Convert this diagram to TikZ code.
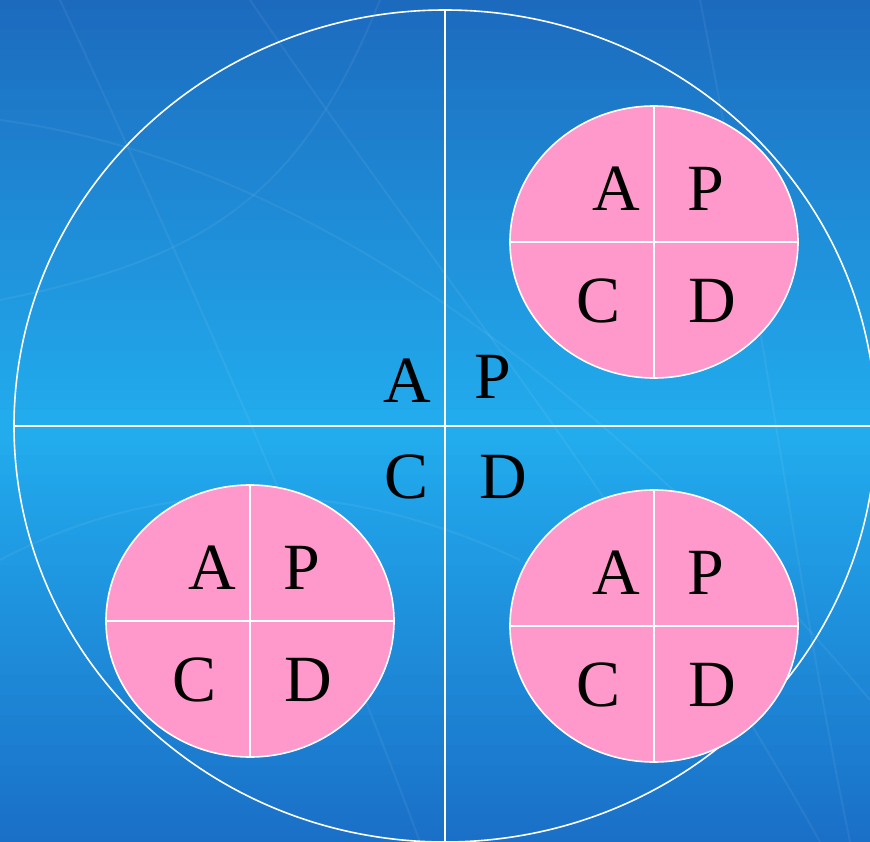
\documentclass[tikz,border=0pt]{standalone}
\usepackage{fontspec}
\setmainfont{Liberation Serif}
\usetikzlibrary{shapes.geometric, positioning}

\definecolor{skytop}{RGB}{28,106,190}
\definecolor{skymid}{RGB}{34,172,238}
\definecolor{skybot}{RGB}{26,110,198}
\definecolor{discpink}{RGB}{255,153,204}

\begin{document}
\begin{tikzpicture}[
    x=1pt, y=-1pt,
    letter/.style={inner sep=0pt, text=black, font=\fontsize{66}{66}\selectfont},
    divider/.style={draw=white, line width=1.6pt},
    ring/.style={draw=white, line width=1.6pt, ellipse, inner sep=0pt, minimum width=862pt, minimum height=832pt},
    disc/.style={draw=white, line width=1.6pt, fill=discpink, ellipse, inner sep=0pt, minimum width=288pt, minimum height=272pt},
    streak/.style={draw=white, opacity=0.06, line width=2pt}
]

% -------------------------
% Quadrant Disc Definition
% -------------------------
\tikzset{
    apcd/.pic={
        \node[disc] (-disc) at (0, 0) {};
        \draw[divider] (-disc.west) -- (-disc.east); % Horizontal
        \draw[divider] (-disc.north) -- (-disc.south); % Vertical
        \node[letter] (-A) at (-38, -53) {A};
        \node[letter] (-P) at (52, -53) {P};
        \node[letter] (-C) at (-55, 59) {C};
        \node[letter] (-D) at (58, 59) {D};
    }
}

% -------------------------
% Background
% -------------------------
\useasboundingbox (0, 0) rectangle (870, 842);
\clip (0, 0) rectangle (870, 842);
\foreach \i in {0,...,42} {
    \pgfmathtruncatemacro{\pct}{100 - \i*100/42}
    \fill[skytop!\pct!skymid] (0, \i*10) rectangle (870, \i*10 + 11);
}
\foreach \i in {0,...,42} {
    \pgfmathtruncatemacro{\pct}{\i*100/42}
    \fill[skybot!\pct!skymid] (0, 425 + \i*10) rectangle (870, 425 + \i*10 + 11);
}

% faint streaks
\draw[streak] (60, 0) .. controls (200, 300) and (330, 600) .. (420, 842);
\draw[streak] (250, 0) .. controls (420, 250) and (640, 520) .. (820, 842);
\draw[streak] (0, 120) .. controls (300, 160) and (600, 380) .. (870, 700);
\draw[streak] (700, 0) .. controls (760, 300) and (800, 600) .. (850, 842);
\draw[streak] (0, 560) .. controls (150, 480) and (330, 470) .. (520, 560);
\draw[streak] (380, 0) .. controls (300, 200) and (200, 260) .. (0, 300);

% -------------------------
% Outer Ring and Axes
% -------------------------
\node[ring] (Ring) at (445, 426) {};
\draw[divider] (Ring.north) -- (Ring.south);
\draw[divider] (Ring.west) -- (Ring.east);

% -------------------------
% Centre Labels
% -------------------------
\node[letter] (MainA) at (407, 381) {A};
\node[letter] (MainP) at (493, 377) {P};
\node[letter] (MainC) at (407, 477) {C};
\node[letter] (MainD) at (503, 477) {D};

% -------------------------
% Quadrant Discs
% -------------------------
\pic (TopRight) at (654, 242) {apcd};
\pic (BottomLeft) at (250, 621) {apcd};
\pic (BottomRight) at (654, 626) {apcd};

\end{tikzpicture}
\end{document}
